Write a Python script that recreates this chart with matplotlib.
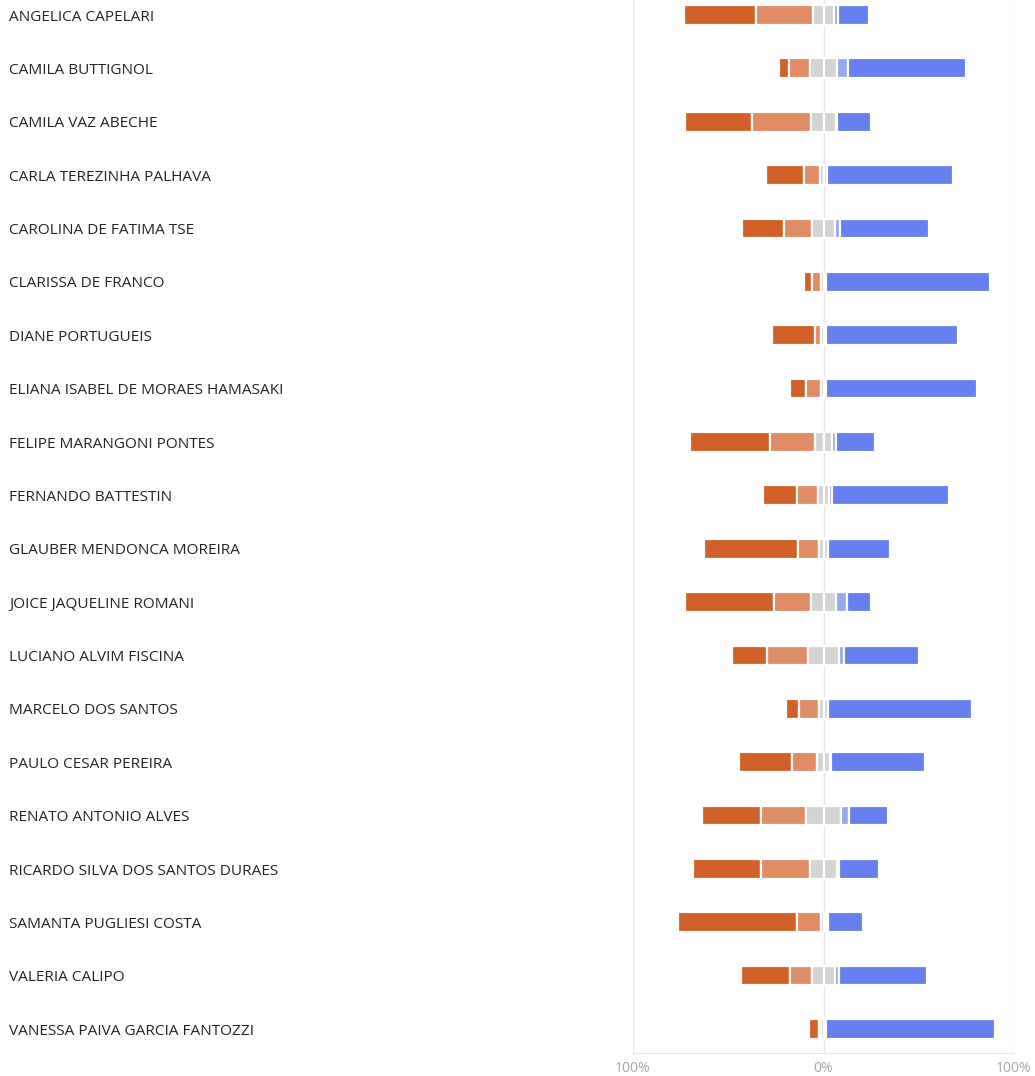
import numpy as np
import matplotlib
matplotlib.use("Agg")
import matplotlib.pyplot as plt
import matplotlib.transforms as mtransforms

plt.rcParams['font.family'] = ['Open Sans', 'DejaVu Sans']

names = ["ANGELICA CAPELARI", "CAMILA BUTTIGNOL", "CAMILA VAZ ABECHE",
         "CARLA TEREZINHA PALHAVA", "CAROLINA DE FATIMA TSE", "CLARISSA DE FRANCO",
         "DIANE PORTUGUEIS", "ELIANA ISABEL DE MORAES HAMASAKI", "FELIPE MARANGONI PONTES",
         "FERNANDO BATTESTIN", "GLAUBER MENDONCA MOREIRA", "JOICE JAQUELINE ROMANI",
         "LUCIANO ALVIM FISCINA", "MARCELO DOS SANTOS", "PAULO CESAR PEREIRA",
         "RENATO ANTONIO ALVES", "RICARDO SILVA DOS SANTOS DURAES", "SAMANTA PUGLIESI COSTA",
         "VALERIA CALIPO", "VANESSA PAIVA GARCIA FANTOZZI"]

# percentages per answer (strongly disagree .. strongly agree)
strong_neg = [38.0, 5.3, 35.0, 19.6, 21.9, 4.2, 22.7, 8.4, 42.3, 17.8,
              49.3, 46.9, 18.2, 7.0, 28.0, 31.2, 35.9, 62.7, 25.6, 5.2]
neg = [29.7, 11.2, 31.0, 8.4, 14.9, 4.9, 3.2, 7.9, 23.8, 11.0,
       11.4, 19.3, 21.5, 10.5, 13.1, 23.6, 25.9, 12.6, 11.7, 1.2]
neutral = [11.4, 13.7, 13.0, 4.0, 12.0, 2.6, 2.6, 2.6, 8.4, 6.0,
           4.4, 13.5, 16.6, 4.4, 6.5, 18.4, 13.8, 2.6, 11.7, 2.8]
pos = [1.7, 5.8, 0.8, 0.0, 2.8, 0.0, 0.0, 0.0, 2.1, 1.5,
       0.0, 5.5, 2.3, 0.0, 0.5, 4.0, 1.4, 0.9, 2.3, 0.0]
strong_pos = [16.6, 62.0, 17.5, 66.0, 46.4, 86.3, 69.1, 79.1, 20.7, 61.5,
              32.9, 12.8, 39.3, 75.8, 49.5, 20.5, 20.6, 18.7, 46.4, 88.7]

c_sneg = "#D16128"
c_neg = "#E08C64"
c_neu = "#D4D4D2"
c_pos = "#96A8F0"
c_spos = "#6680EF"

W, H = 1035, 1076
fig = plt.figure(figsize=(W / 100, H / 100), dpi=100)
ax = fig.add_axes([633 / W, (H - 1053) / H, (1014 - 633) / W, 1053 / H])

y = np.arange(len(names))
sn = np.array(strong_neg)
ng = np.array(neg)
nu = np.array(neutral)
ps = np.array(pos)
sp = np.array(strong_pos)

h = 0.37
kw = dict(height=h, edgecolor="white", linewidth=1.6, zorder=3)
start = -(sn + ng + nu / 2)
ax.barh(y, sn, left=start, color=c_sneg, **kw)
ax.barh(y, ng, left=start + sn, color=c_neg, **kw)
ax.barh(y, nu / 2, left=-nu / 2, color=c_neu, **kw)
ax.barh(y, nu / 2, left=0, color=c_neu, **kw)
ax.barh(y, ps, left=nu / 2, color=c_pos, **kw)
ax.barh(y, sp, left=nu / 2 + ps, color=c_spos, **kw)

ax.set_xlim(-100, 100)
ax.set_ylim(len(names) - 1 + 0.45, -0.28)
for xv in (-100, 0, 100):
    ax.axvline(xv, color="#E6E6E6", lw=1, zorder=1)

for s in ["top", "left", "right"]:
    ax.spines[s].set_visible(False)
ax.spines["bottom"].set_color("#E6E6E6")
ax.set_yticks([])
ax.set_xticks([-100, 0, 100])
ax.set_xticklabels(["100%", "0%", "100%"], color="#A8A8A8", fontsize=10)
ax.tick_params(axis="x", length=0, pad=6)

trans = mtransforms.blended_transform_factory(fig.transFigure, ax.transData)
for i, n in enumerate(names):
    ax.text(9 / W, i + 0.04, n, transform=trans, ha="left", va="center",
            fontsize=11.1, color="#252423")

fig.savefig("out.png", dpi=100)
